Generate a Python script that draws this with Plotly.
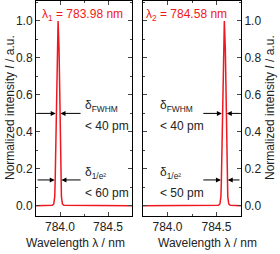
import plotly.graph_objects as go
from plotly.subplots import make_subplots

# Data
x1 = [783.75, 783.92, 783.935, 783.945, 783.95, 783.96, 783.97, 783.98,
      783.99, 784.00, 784.01, 784.015, 784.025, 784.04, 784.75]
y1 = [0.0, 0.003, 0.01, 0.05, 0.14, 0.5, 0.85, 1.0, 0.85, 0.5, 0.14, 0.05, 0.01, 0.003, 0.0]
x2 = [783.75, 784.52, 784.535, 784.545, 784.55, 784.56, 784.57, 784.58,
      784.59, 784.60, 784.61, 784.615, 784.625, 784.64, 784.75]
y2 = [0.0, 0.003, 0.01, 0.05, 0.14, 0.5, 0.85, 1.0, 0.85, 0.5, 0.14, 0.05, 0.01, 0.003, 0.0]
xticks = [784.0, 784.5]
yticks = [0.0, 0.2, 0.4, 0.6, 0.8, 1.0]
labels = ["λ<sub>1</sub> = 783.98 nm", "λ<sub>2</sub> = 784.58 nm"]
fwhm = ["&lt; 40 pm", "&lt; 40 pm"]
e2 = ["&lt; 60 pm", "&lt; 50 pm"]

FONT = "Liberation Sans, Arial, sans-serif"
RED = "#f01820"

fig = make_subplots(rows=1, cols=2)
fig.add_trace(go.Scatter(x=x1, y=y1, mode="lines", line=dict(color=RED, width=1.5),
                         showlegend=False), row=1, col=1)
fig.add_trace(go.Scatter(x=x2, y=y2, mode="lines", line=dict(color=RED, width=1.5),
                         showlegend=False), row=1, col=2)

W, H = 280, 254
ydom = [1 - 216 / H, 1 - 1 / H]
xaxis_common = dict(range=[783.75, 784.75], tickvals=xticks, ticktext=[f"{v:.1f}" for v in xticks],
                    ticks="inside", ticklen=4, showline=True, linecolor="black", linewidth=1,
                    mirror="ticks", showgrid=False, zeroline=False,
                    minor=dict(ticks="inside", ticklen=2, dtick=0.25, tick0=783.75, showgrid=False),
                    tickfont=dict(family=FONT, size=12, color="#222"))
yaxis_common = dict(range=[-0.055, 1.108], tickvals=yticks, ticktext=[f"{v:.1f}" for v in yticks],
                    ticks="inside", ticklen=4, showline=True, linecolor="black", linewidth=1,
                    mirror="ticks", showgrid=False, zeroline=False,
                    minor=dict(ticks="inside", ticklen=2, dtick=0.1, tick0=0, showgrid=False),
                    tickfont=dict(family=FONT, size=12, color="#222"))

fig.update_layout(
    width=W, height=H, margin=dict(l=0, r=0, t=0, b=0),
    paper_bgcolor="white", plot_bgcolor="white",
    xaxis=dict(**xaxis_common, domain=[36 / W, 132 / W]),
    xaxis2=dict(**xaxis_common, domain=[143 / W, 241 / W]),
    yaxis=dict(**yaxis_common, domain=ydom),
    yaxis2=dict(**yaxis_common, domain=ydom, side="right"),
    font=dict(family=FONT, color="#222"),
)

ann = []
# axis titles
for xc in [75 / W, 207 / W]:
    ann.append(dict(x=xc, y=1 - 243 / H, xref="paper", yref="paper", text="Wavelength λ / nm",
                    xanchor="center", yanchor="middle",
                    showarrow=False, font=dict(size=12, family=FONT, color="#222")))
for xc in [10 / W, 270 / W]:
    ann.append(dict(x=xc, y=1 - 108 / H, xref="paper", yref="paper",
                    text="Normalized intensity <i>I</i> / a.u.", textangle=-90,
                    xanchor="center", yanchor="middle",
                    showarrow=False, font=dict(size=12, family=FONT, color="#222")))
# lambda labels
ann.append(dict(x=784.23, y=1.03, xref="x", yref="y", text=labels[0], showarrow=False,
                xanchor="center", font=dict(size=12, family=FONT, color=RED)))
ann.append(dict(x=784.19, y=1.03, xref="x2", yref="y2", text=labels[1], showarrow=False,
                xanchor="center", font=dict(size=12, family=FONT, color=RED)))

def arrow(xr, yr, hx, hy, tx):
    return dict(x=hx, y=hy, ax=tx, ay=hy, xref=xr, yref=yr, axref=xr, ayref=yr, text="",
                showarrow=True, arrowhead=2, arrowsize=1, arrowwidth=1, arrowcolor="black")

# left panel arrows
ann += [arrow("x", "y", 783.955, 0.5, 783.75), arrow("x", "y", 784.005, 0.5, 784.23),
        arrow("x", "y", 783.945, 0.14, 783.75), arrow("x", "y", 784.015, 0.14, 784.23)]
# right panel arrows
ann += [arrow("x2", "y2", 784.555, 0.5, 784.35), arrow("x2", "y2", 784.605, 0.5, 784.75),
        arrow("x2", "y2", 784.545, 0.14, 784.35), arrow("x2", "y2", 784.615, 0.14, 784.75)]

def txt(xr, yr, x, y, t, size=12):
    return dict(x=x, y=y, xref=xr, yref=yr, text=t, showarrow=False, xanchor="left",
                font=dict(size=size, family=FONT, color="#222"))

ann += [txt("x", "y", 784.24, 0.54, "δ<sub>FWHM</sub>"), txt("x", "y", 784.24, 0.43, fwhm[0]),
        txt("x", "y", 784.24, 0.18, "δ<sub>1/e²</sub>"), txt("x", "y", 784.24, 0.07, e2[0])]
ann += [txt("x2", "y2", 783.90, 0.54, "δ<sub>FWHM</sub>"), txt("x2", "y2", 783.90, 0.43, fwhm[1]),
        txt("x2", "y2", 783.90, 0.18, "δ<sub>1/e²</sub>"), txt("x2", "y2", 783.90, 0.07, e2[1])]

fig.update_layout(annotations=ann)
fig.write_html("out.html", config={"displayModeBar": False},
               post_script="document.body.style.margin='0';")
